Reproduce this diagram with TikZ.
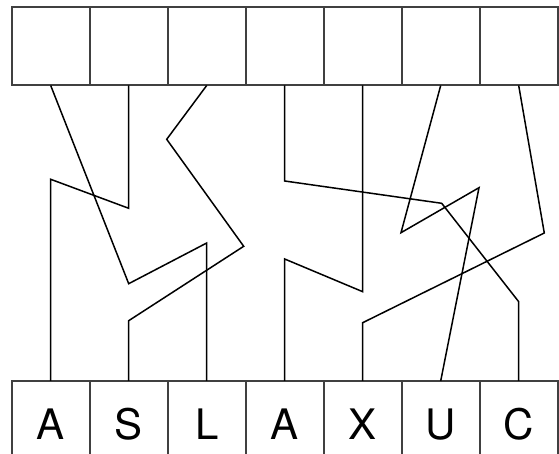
\documentclass[tikz,border=0pt]{standalone}
\usepackage{fontspec}
\setmainfont{TeX Gyre Heros}
\usetikzlibrary{positioning}

\tikzset{
  cell/.style={draw=black!75, line width=1pt, minimum width=39pt, minimum height=39pt, inner sep=0pt, outer sep=0pt},
  letter/.style={cell, font=\fontsize{21}{25}\selectfont, text height=20pt, text depth=0pt},
  wire/.style={black, line width=0.75pt, line join=miter}
}

\begin{document}
\begin{tikzpicture}[x=0.5pt, y=-0.5pt]
\useasboundingbox (0,0) rectangle (559,454);
% top row
\foreach \i in {1,...,7}
  \node[cell] (t\i) at ({11.7+78*(\i-0.5)},46.5) {};
% bottom row
\foreach \l [count=\i] in {A,S,L,A,X,U,C}
  \node[letter] (b\i) at ({11.7+78*(\i-0.5)},420) {\l};
% connectors
\draw[wire] (t1.south) -- (128.7,283.7) -- (206.7,243) -- (b3.north);
\draw[wire] (t2.south) -- (128.7,208.3) -- (50.7,179.3) -- (b1.north);
\draw[wire] (t3.south) -- (166.7,139.3) -- (243.7,246.3) -- (128.7,320.7) -- (b2.north);
\draw[wire] (t4.south) -- (284.7,181) -- (441.7,203.3) -- (518.7,301.7) -- (b7.north);
\draw[wire] (t5.south) -- (362.7,291.7) -- (284.7,259) -- (b4.north);
\draw[wire] (t6.south) -- (401,232.7) -- (479,187.7) -- (b6.north);
\draw[wire] (t7.south) -- (544.3,233) -- (362.7,322.7) -- (b5.north);
\end{tikzpicture}
\end{document}
